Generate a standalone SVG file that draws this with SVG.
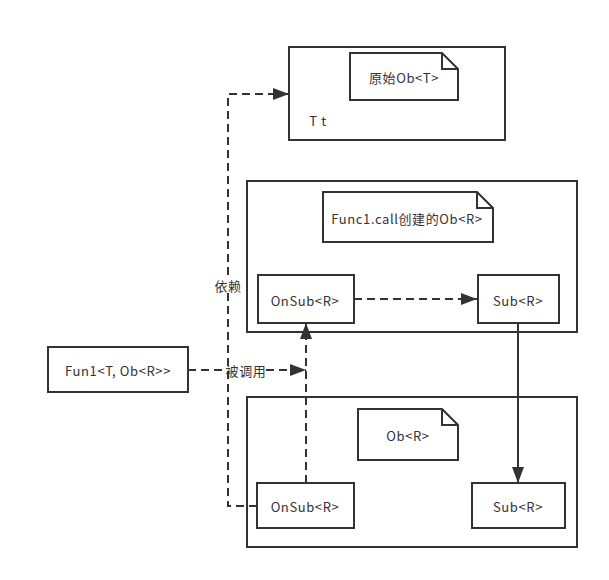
<svg xmlns="http://www.w3.org/2000/svg" width="609" height="580" viewBox="0 0 609 580">
<defs>
<marker id="ahb" viewBox="0 0 16 12" refX="16" refY="6" markerWidth="16" markerHeight="12" markerUnits="userSpaceOnUse" orient="auto">
<path d="M0,0 L16,6 L0,12 z" fill="#333"/>
</marker>
</defs>
<style>
.box{fill:#fff;stroke:#333;stroke-width:2}
.t{font-family:"Noto Sans CJK SC","Liberation Sans",sans-serif;font-size:13px;letter-spacing:0.6px;fill:#333;text-anchor:middle;dominant-baseline:central}
.d{fill:none;stroke:#333;stroke-width:2;stroke-dasharray:8,5}
.s{fill:none;stroke:#333;stroke-width:2}
.lbl{fill:#fff}
</style>
<rect width="609" height="580" fill="#fff"/>
<g id="container1">
<rect class="box" x="289" y="47" width="216" height="93"/>
<text class="t" x="318" y="120">T t</text>
</g>
<g id="note1">
<path class="box" d="M350,53 H442 L458,69 V100 H350 Z"/>
<path class="s" d="M442,53 V69 H458"/>
<text class="t" x="404" y="77">原始Ob&lt;T&gt;</text>
</g>
<g id="container2">
<rect class="box" x="247" y="181" width="330" height="151"/>
</g>
<g id="note2">
<path class="box" d="M323,192 H477 L493,208 V242 H323 Z"/>
<path class="s" d="M477,192 V208 H493"/>
<text class="t" x="407" y="218">Func1.call创建的Ob&lt;R&gt;</text>
</g>
<g id="onsub2">
<rect class="box" x="258" y="275" width="96" height="48"/>
<text class="t" x="305" y="300">OnSub&lt;R&gt;</text>
</g>
<g id="sub2">
<rect class="box" x="478" y="275" width="81" height="48"/>
<text class="t" x="518" y="300">Sub&lt;R&gt;</text>
</g>
<g id="fun1">
<rect class="box" x="48" y="347" width="140" height="45"/>
<text class="t" x="118" y="370">Fun1&lt;T, Ob&lt;R&gt;&gt;</text>
</g>
<g id="container3">
<rect class="box" x="247" y="397" width="330" height="150"/>
</g>
<g id="note3">
<path class="box" d="M358,409 H442 L458,425 V460 H358 Z"/>
<path class="s" d="M442,409 V425 H458"/>
<text class="t" x="408" y="435">Ob&lt;R&gt;</text>
</g>
<g id="onsub3">
<rect class="box" x="257" y="483" width="97" height="45"/>
<text class="t" x="305" y="506">OnSub&lt;R&gt;</text>
</g>
<g id="sub3">
<rect class="box" x="472" y="483" width="93" height="45"/>
<text class="t" x="518" y="506">Sub&lt;R&gt;</text>
</g>
<g id="connectors">
<path class="d" d="M354,299 H477" marker-end="url(#ahb)"/>
<path class="s" d="M518,323 V483" marker-end="url(#ahb)"/>
<path class="d" d="M306,483 V323" marker-end="url(#ahb)"/>
<path class="d" d="M188,370 H306" marker-end="url(#ahb)"/>
<rect class="lbl" x="227" y="362" width="39" height="16"/>
<text class="t" x="246" y="370">被调用</text>
<path class="d" d="M257,506 H228 V94 H289" marker-end="url(#ahb)"/>
<rect class="lbl" x="214" y="277" width="28" height="16"/>
<text class="t" x="228" y="285">依赖</text>
</g>
</svg>
